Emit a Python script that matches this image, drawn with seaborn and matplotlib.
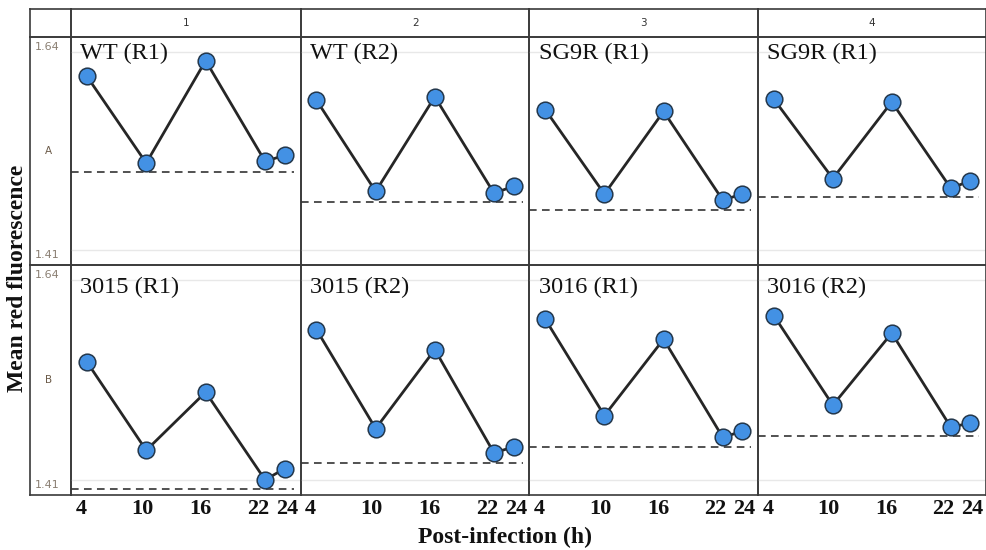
import pandas as pd
import seaborn as sns
import matplotlib.pyplot as plt
from matplotlib.transforms import ScaledTranslation

# hours post-infection
hours = [4, 10, 16, 22, 24]

panel_names = ["WT (R1)", "WT (R2)", "SG9R (R1)", "SG9R (R1)",
               "3015 (R1)", "3015 (R2)", "3016 (R1)", "3016 (R2)"]
row_labels = ["A", "B"]
col_labels = ["1", "2", "3", "4"]

# mean red fluorescence
wt_r1 = [1.612, 1.511, 1.630, 1.513, 1.520]
wt_r2 = [1.584, 1.478, 1.588, 1.476, 1.484]
sg9r_a = [1.573, 1.475, 1.571, 1.468, 1.475]
sg9r_b = [1.585, 1.493, 1.582, 1.482, 1.490]
s3015_r1 = [1.546, 1.444, 1.511, 1.410, 1.423]
s3015_r2 = [1.583, 1.469, 1.560, 1.441, 1.448]
s3016_r1 = [1.595, 1.484, 1.572, 1.459, 1.466]
s3016_r2 = [1.599, 1.496, 1.579, 1.471, 1.475]

# dashed reference lines
baselines = [1.5006, 1.4654, 1.4565, 1.4720, 1.3999, 1.4294, 1.4476, 1.4600]

series = [wt_r1, wt_r2, sg9r_a, sg9r_b, s3015_r1, s3015_r2, s3016_r1, s3016_r2]
df = pd.DataFrame([
    {"panel": i, "hour": h, "value": v}
    for i, vals in enumerate(series) for h, v in zip(hours, vals)
])

sns.set_theme(style="white")
plt.rcParams['font.family'] = ['DejaVu Sans']

serif = "Liberation Serif"
frame_col = "#3a3a3a"
small_col = "#8a7f72"
# the hour labels in the original sit a little off their points (pixels)
label_shift = [-6, -4, -5, -7, 2]

fig = plt.figure(figsize=(9.87, 5.5), dpi=100)
gs = fig.add_gridspec(3, 5, left=30/987, right=986/987, top=1 - 9/550, bottom=1 - 495/550,
                      width_ratios=[41, 230, 229, 229, 228], height_ratios=[28, 228, 230],
                      wspace=0, hspace=0)

def frame(ax):
    ax.set_xticks([])
    ax.set_yticks([])
    ax.set_facecolor("none")
    for s in ax.spines.values():
        s.set_color(frame_col)
        s.set_linewidth(1.2)

corner = fig.add_subplot(gs[0, 0])
frame(corner)

for c, lab in enumerate(col_labels):
    hax = fig.add_subplot(gs[0, c + 1])
    frame(hax)
    hax.text(0.5, 0.5, lab, transform=hax.transAxes, ha="center", va="center",
             fontsize=7.5, color="#333333")

for r, lab in enumerate(row_labels):
    sax = fig.add_subplot(gs[r + 1, 0])
    frame(sax)
    sax.text(0.45, 0.5, lab, transform=sax.transAxes, ha="center", va="center",
             fontsize=7.5, color="#6b5a48")

text_y = [0.93, 0.902]

for i in range(8):
    r, c = divmod(i, 4)
    ax = fig.add_subplot(gs[r + 1, c + 1])
    sub = df[df["panel"] == i]
    ax.axhline(1.64, color="#e8e8e8", lw=1, zorder=0)
    ax.axhline(1.41, color="#e8e8e8", lw=1, zorder=0)
    ax.hlines(baselines[i], 2.4, 24.9, colors="#222222", lw=1.1,
              linestyles=(0, (5, 3.5)), zorder=1)
    sns.lineplot(data=sub, x="hour", y="value", ax=ax, color="#262626", lw=2,
                 marker="o", markersize=12, markerfacecolor="#4391e4",
                 markeredgecolor="#24384c", markeredgewidth=1.1, zorder=3)
    ax.set_xlim(2.4, 25.6)
    ax.set_ylim(1.3925, 1.6575)
    ax.set_xlabel("")
    ax.set_ylabel("")
    ax.set_facecolor("none")
    for s in ax.spines.values():
        s.set_color(frame_col)
        s.set_linewidth(1.2)
    ax.text(0.04, text_y[r], panel_names[i], transform=ax.transAxes,
            ha="left", va="center", fontsize=17.5, family=serif, color="#111111")
    ax.tick_params(length=0)
    if c == 0:
        ax.set_yticks([1.41, 1.64])
        ax.set_yticklabels(["1.41", "1.64"], fontsize=8, color=small_col)
        ax.tick_params(axis="y", pad=8)
        lbls = ax.get_yticklabels()
        lbls[0].set_va("top")
        lbls[1].set_va("bottom")
    else:
        ax.set_yticks([])
    if r == 1:
        ax.set_xticks(hours)
        ax.set_xticklabels([str(h) for h in hours], fontsize=16,
                           family=serif, fontweight="bold", color="#111111")
        ax.tick_params(axis="x", pad=3)
        for lbl, dx in zip(ax.get_xticklabels(), label_shift):
            lbl.set_transform(lbl.get_transform() + ScaledTranslation(dx / 100, 0, fig.dpi_scale_trans))
    else:
        ax.set_xticks([])

fig.text(505/987, 1 - 537/550, "Post-infection (h)", ha="center", va="center",
         fontsize=17, family=serif, fontweight="bold", color="#111111")
fig.text(18/987, 1 - 278/550, "Mean red fluorescence", ha="center", va="center",
         rotation=90, fontsize=17, family=serif, fontweight="bold", color="#111111")

fig.savefig("out.png", dpi=100)
